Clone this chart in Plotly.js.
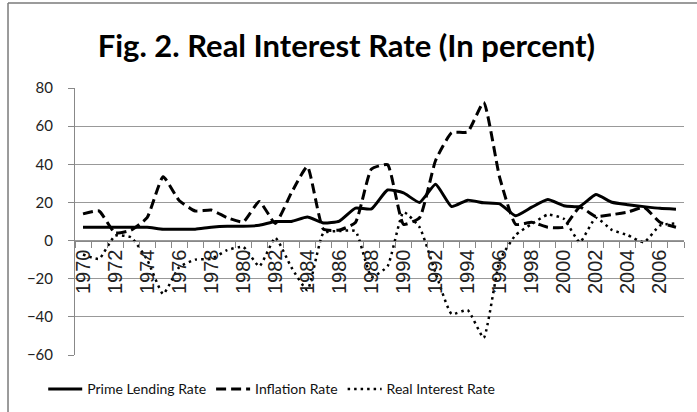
<!DOCTYPE html>
<html>
<head>
<meta charset="utf-8">
<script src="https://cdn.plot.ly/plotly-3.0.1.min.js"></script>
<style>html,body{margin:0;padding:0;background:#fff;}#chart{width:697px;height:412px;}</style>
</head>
<body>
<div id="chart"></div>
<script>
const years = [1970,1971,1972,1973,1974,1975,1976,1977,1978,1979,1980,1981,1982,1983,1984,1985,1986,1987,1988,1989,1990,1991,1992,1993,1994,1995,1996,1997,1998,1999,2000,2001,2002,2003,2004,2005,2006,2007];
const primeLending = [7,7,7,7,7,6,6,6,7,7.5,7.5,8,10,10,12.3,9.2,10.2,17,16.6,26.5,25,20,29.5,17.8,21.2,19.8,19.2,13,17.5,21.5,18.3,17.9,24.1,20.1,18.8,17.8,16.9,16.4];
const inflation = [14,15.5,4,5.5,12,33.5,21,15.5,16,12,9.8,20.5,9,25,38.8,6,5.5,9.5,37.5,39.8,8.5,12,42,56.5,57,72.5,33,8.5,9.6,7,7,17.5,12.6,13.6,14.9,17.5,9.6,7];
const realInterest = [-7.3,-9.6,2.6,1.7,-10,-28,-14,-10,-9.6,-5,-3.3,-13.5,1.5,-14,-26,4,5,5,-19,-13.5,15,7,-17,-38.5,-36.5,-51,-10.5,3,8.7,13.6,11.4,-0.9,12,5.6,2.8,-0.9,7.9,9];
const yTicks = [-60,-40,-20,0,20,40,60,80];
const xTickYears = [1970,1972,1974,1976,1978,1980,1982,1984,1986,1988,1990,1992,1994,1996,1998,2000,2002,2004,2006];

const font = "Lato, 'Open Sans', sans-serif";
const traces = [
  {x: years, y: primeLending, name: 'Prime Lending Rate', type: 'scatter', mode: 'lines',
   line: {color: '#000', width: 3, shape: 'spline', smoothing: 0.45}},
  {x: years, y: inflation, name: 'Inflation Rate', type: 'scatter', mode: 'lines',
   line: {color: '#000', width: 3, dash: '10px,5px', shape: 'spline', smoothing: 0.45}},
  {x: years, y: realInterest, name: 'Real Interest Rate', type: 'scatter', mode: 'lines',
   line: {color: '#000', width: 2.5, dash: '2.5px,4px', shape: 'spline', smoothing: 0.45}}
];
const zeroPos = 60 / 140;
const layout = {
  width: 697, height: 412,
  margin: {l: 75, r: 13, t: 88, b: 57},
  paper_bgcolor: '#fff', plot_bgcolor: '#fff',
  showlegend: true,
  title: {text: '<b>Fig. 2. Real Interest Rate (In percent)</b>', x: 0.497, xanchor: 'center', y: 0.888, yanchor: 'middle',
          font: {family: font, size: 31, color: '#000'}},
  xaxis: {type: 'linear', range: [1969.5, 2007.5], anchor: 'free', position: zeroPos, automargin: false,
          tickvals: xTickYears, ticktext: xTickYears.map(String), tickangle: -90,
          ticks: '', showgrid: false, zeroline: false, showline: true, linecolor: '#888', linewidth: 1,
          tickfont: {family: "'Liberation Sans', Arial, sans-serif", size: 20, color: '#222'},
          minor: {tick0: 1969.5, dtick: 1, ticks: 'outside', ticklen: 6, tickcolor: '#888', showgrid: false}},
  yaxis: {range: [-60, 80], tickvals: yTicks, ticks: 'outside', ticklen: 6, tickcolor: '#888', automargin: false,
          showgrid: true, gridcolor: '#999', gridwidth: 1, zeroline: false,
          showline: true, linecolor: '#888', linewidth: 1, ticklabelstandoff: 12,
          tickfont: {family: font, size: 15, color: '#222'}},
  legend: {orientation: 'h', xref: 'container', x: 0.062, xanchor: 'left', yref: 'container', y: 0.055, yanchor: 'middle',
           font: {family: font, size: 14, color: '#111'}, itemwidth: 34, bgcolor: 'rgba(0,0,0,0)'},
  shapes: [
    {type: 'line', xref: 'paper', yref: 'paper', x0: -0.110, x1: -0.110, y0: 1.318, y1: -0.25, line: {color: '#7a7a7a', width: 1.5}},
    {type: 'line', xref: 'paper', yref: 'paper', x0: -0.110, x1: 1.05, y0: 1.318, y1: 1.318, line: {color: '#7a7a7a', width: 1.5}}
  ]
};
Plotly.newPlot('chart', traces, layout, {staticPlot: true, displayModeBar: false});
</script>
</body>
</html>
